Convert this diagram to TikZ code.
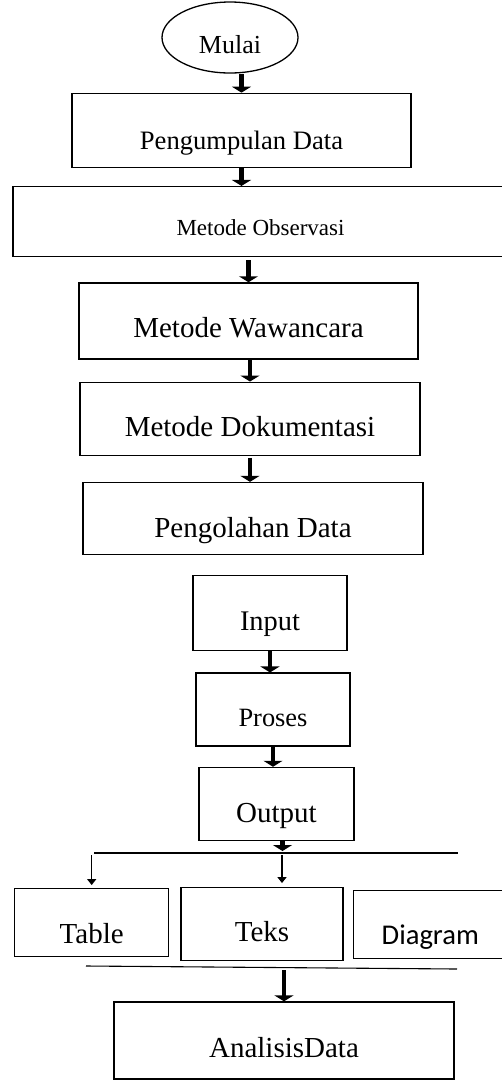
\documentclass[tikz,border=0pt]{standalone}
\usepackage{fontspec}
\setmainfont{Liberation Serif}
\newfontfamily\carlito{Carlito}
\usetikzlibrary{arrows.meta,positioning,shapes.geometric}
\newcommand\tsize[1]{\fontsize{#1pt}{#1pt}\selectfont}
\begin{document}
\begin{tikzpicture}[x=1pt,y=1pt,
box/.style={draw,line width=1.3pt,inner sep=0pt,text height=55pt,text depth=19pt,font=\tsize{29}},
arr/.style={-{Triangle[width=19pt,length=6pt]},line width=4.5pt},
tipis/.style={-{Triangle[width=9pt,length=6pt]},line width=1.4pt},
garis/.style={line width=1.1pt}]
\useasboundingbox (0,0) rectangle (502,-1080);
\node[draw,ellipse,line width=1.3pt,minimum width=136pt,minimum height=71pt,inner sep=0pt,text height=34pt,text depth=3pt,font=\tsize{26}] (mulai) at (230,-37.5) {Mulai};
\node[box,below=19pt of mulai,xshift=11.5pt,minimum width=339pt,text height=56pt,text depth=18pt,font=\tsize{26.6}] (kumpul) {Pengumpulan Data};
\node[box,below=18pt of kumpul,xshift=19pt,minimum width=495pt,text height=49pt,text depth=21pt,font=\tsize{23}] (observasi) {Metode Observasi};
\node[box,below=25pt of observasi,xshift=-12pt,minimum width=339pt,text depth=21pt] (wawancara) {Metode Wawancara};
\node[box,below=22pt of wawancara,xshift=1.5pt,minimum width=340pt,text height=54pt] (dokumentasi) {Metode Dokumentasi};
\node[box,below=26pt of dokumentasi,xshift=3pt,minimum width=340pt,text depth=17pt] (olah) {Pengolahan Data};
\node[box,below=20pt of olah,xshift=17pt,minimum width=154pt,text depth=20pt,font=\tsize{28.4}] (input) {Input};
\node[box,below=21pt of input,xshift=3pt,minimum width=154pt,text height=53pt,text depth=20pt,font=\tsize{26.4}] (proses) {Proses};
\node[box,below=20pt of proses,xshift=3.5pt,minimum width=155pt,text depth=18pt] (output) {Output};
\node[box,below=46pt of output,xshift=-14.5pt,minimum width=162pt,text height=54pt] (teks) {Teks};
\node[box,left=11pt of teks,yshift=1.5pt,minimum width=154pt,text depth=13pt] (tabel) {Table};
\node[box,right=9pt of teks,minimum width=154pt,text height=54pt,text depth=14pt,font={\carlito\tsize{28.6}}] (diagram) {Diagram};
\node[box,below=40pt of teks,xshift=22pt,minimum width=340pt,text depth=22pt] (analisis) {AnalisisData};
\coordinate (bus1a) at (94,-853);
\coordinate (bus1b) at (458,-853);
\coordinate (bus2a) at (86,-966);
\coordinate (bus2b) at (457,-969);
\coordinate[below=18pt of analisis.south] (akhir);
\draw[garis] (bus1a) -- (bus1b);
\draw[garis] (bus2a) -- (bus2b);
\draw[arr] (kumpul.north |- mulai.south) -- (kumpul.north);
\draw[arr] (kumpul.south) -- (kumpul.south |- observasi.north);
\draw[arr,shorten <=3pt] (wawancara.north |- observasi.south) -- (wawancara.north);
\draw[arr] (dokumentasi.north |- wawancara.south) -- (dokumentasi.north);
\draw[arr,shorten <=2pt] (dokumentasi.south) -- (dokumentasi.south |- olah.north);
\draw[arr] (input.south) -- (input.south |- proses.north);
\draw[arr] (proses.south) -- (proses.south |- output.north);
\draw[arr,shorten >=2pt] ([xshift=6pt]output.south) -- ([xshift=6pt]output.south |- bus1a);
\draw[tipis,shorten <=2pt,shorten >=3pt] (tabel.north |- bus1a) -- (tabel.north);
\draw[tipis,shorten <=2pt,shorten >=4pt] ([xshift=20pt]teks.north |- bus1a) -- ([xshift=20pt]teks.north);
\draw[arr,shorten <=4pt] (analisis.north |- bus2a) -- (analisis.north);
\draw[arr] (analisis.south) -- (akhir);
\end{tikzpicture}
\end{document}
